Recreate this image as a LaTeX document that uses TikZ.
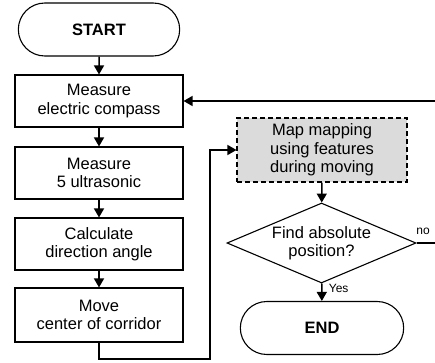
\documentclass[tikz,border=0pt]{standalone}
\usepackage{fontspec}
\setmainfont{Liberation Sans}
\usetikzlibrary{positioning}
\usetikzlibrary{shapes.misc}
\usetikzlibrary{shapes.geometric}
\usetikzlibrary{arrows.meta}

\begin{document}
\begin{tikzpicture}[x=1pt, y=1pt]
    \tikzstyle{stepbox}=[draw, line width=1.1pt, minimum width=168pt, minimum height=52pt, align=center, font=\fontsize{16.5}{18.5}\selectfont]
    \tikzstyle{term}=[draw, rounded rectangle, line width=1.1pt, minimum width=168pt, minimum height=53pt, font=\fontsize{16.5}{18.5}\selectfont\bfseries]
    \tikzstyle{mapbox}=[draw, dashed, dash pattern=on 5pt off 3pt, fill=black!14, line width=1.1pt, minimum width=170pt, minimum height=64pt, align=center, font=\fontsize{16.5}{18.5}\selectfont]
    \tikzstyle{decision}=[draw, diamond, aspect=2.36, inner sep=0pt, line width=1.1pt, minimum width=189pt, minimum height=80pt, align=center, font=\fontsize{16.5}{18.5}\selectfont]
    \tikzstyle{flow}=[line width=1.5pt, -{Triangle[width=10pt, length=9pt]}]
    \tikzstyle{tag}=[font=\fontsize{12}{14}\selectfont]

    \clip (0, 0) rectangle (435, 362);

    \node[term] (start) at (99, 332.5) {START};
    \node[stepbox] (compass) at (99, 261) {Measure\\electric compass};
    \node[stepbox] (sonic) at (99, 189) {Measure\\5 ultrasonic};
    \node[stepbox] (angle) at (99, 118) {Calculate\\direction angle};
    \node[stepbox, minimum height=54pt] (move) at (99, 47) {Move\\center of corridor};

    \node[mapbox] (map) at (322, 212) {Map mapping\\using features\\during moving};
    \node[decision] (find) at (321.5, 119) {Find absolute\\position?};
    \node[term, minimum width=170pt] (end) at (322, 34) {END};

    \coordinate (low) at (99, 3);
    \coordinate (turn) at (210, 3);
    \coordinate (edge) at (440, 119);

    \draw[flow] (start) -- (compass);
    \draw[flow] (compass) -- (sonic);
    \draw[flow] (sonic) -- (angle);
    \draw[flow] (angle) -- (move);
    \draw[flow] (move) -- (low) -- (turn) |- (map.west);
    \draw[flow] (map) -- (find);
    \draw[flow] (find) -- (end) node[tag, pos=0.3, right=3pt] {Yes};
    \draw[flow] (find.east) -- (edge) |- (compass.east);
    \node[tag] (no) at (423, 131) {no};
\end{tikzpicture}
\end{document}
